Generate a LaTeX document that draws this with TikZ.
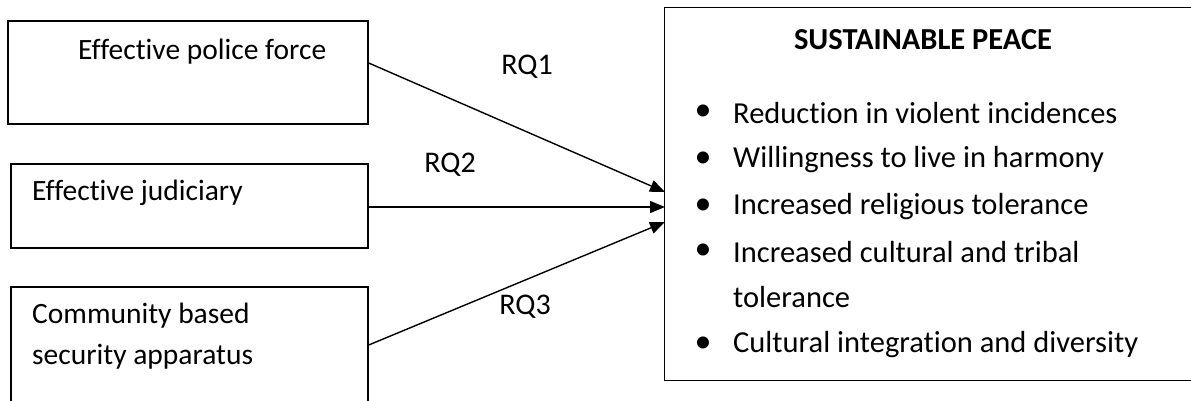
\documentclass[tikz,border=0pt]{standalone}
\usepackage{fontspec}
\setmainfont[Ligatures=NoCommon]{Carlito}
\usetikzlibrary{arrows.meta}
\begin{document}
\begin{tikzpicture}[x=1pt,y=-1pt,
  box/.style={draw=black,line width=1.4pt,rectangle,inner sep=0pt},
  txt/.style={font=\fontsize{30.5}{36}\selectfont,inner sep=0pt,anchor=west},
  ltxt/.style={font=\fontsize{29.5}{36}\selectfont,inner sep=0pt,anchor=west},
  lbl/.style={font=\fontsize{30}{36}\selectfont,inner sep=0pt},
  conn/.style={line width=1.4pt,-{Triangle[length=15pt,width=12pt]}}]
\useasboundingbox (0,0) rectangle (1191,400);
\begin{scope}
\clip (0,0) rectangle (1191,400);
% left boxes
\node[box,minimum width=360pt,minimum height=103pt] (b1) at (188,72.5) {};
\node[box,minimum width=357pt,minimum height=84pt] (b2) at (189.5,206) {};
\node[box,minimum width=357pt,minimum height=130pt] (b3) at (189.5,352) {};
% right box (its right side lies beyond the picture)
\node[box,draw=none,minimum width=560pt,minimum height=372pt] (p) at (945,194) {};
\draw[line width=1.4pt] (p.north east) -- (p.north west) -- (p.south west) -- (p.south east);
\end{scope}
\node[ltxt] (t1) at (78,52) {Effective police force};
\node[ltxt] (t2) at (32,193) {Effective judiciary};
\node[ltxt] (t3a) at (32,316) {Community based};
\node[ltxt] (t3b) at (32,357) {security apparatus};
\node[lbl,font=\fontsize{30.5}{36}\selectfont\bfseries] (title) at (923,40) {SUSTAINABLE PEACE};
\node[lbl,font=\fontsize{34}{36}\selectfont] (d1) at (703,113) {•};
\node[lbl,font=\fontsize{34}{36}\selectfont] (d2) at (703,160) {•};
\node[lbl,font=\fontsize{34}{36}\selectfont] (d3) at (703,207) {•};
\node[lbl,font=\fontsize{34}{36}\selectfont] (d4) at (703,252) {•};
\node[lbl,font=\fontsize{34}{36}\selectfont] (d5) at (703,345) {•};
\node[txt] (i1) at (733,113) {Reduction in violent incidences};
\node[txt] (i2) at (733,160) {Willingness to live in harmony};
\node[txt] (i3) at (733,207) {Increased religious tolerance};
\node[txt] (i4) at (733,252) {Increased cultural and tribal};
\node[txt] (i4b) at (733,297) {tolerance};
\node[txt] (i5) at (733,345) {Cultural integration and diversity};
% connectors
\coordinate (e1) at (665,192);
\coordinate (e2) at (665,207);
\coordinate (e3) at (665,222);
\draw[conn] (b1.east |- 0,63) -- (e1);
\draw[conn] (b2.east |- 0,207) -- (e2);
\draw[conn] (b3.east |- 0,345) -- (e3);
\node[lbl] (rq1) at (527,67) {RQ1};
\node[lbl] (rq2) at (450,165) {RQ2};
\node[lbl] (rq3) at (525,307) {RQ3};
\end{tikzpicture}
\end{document}
